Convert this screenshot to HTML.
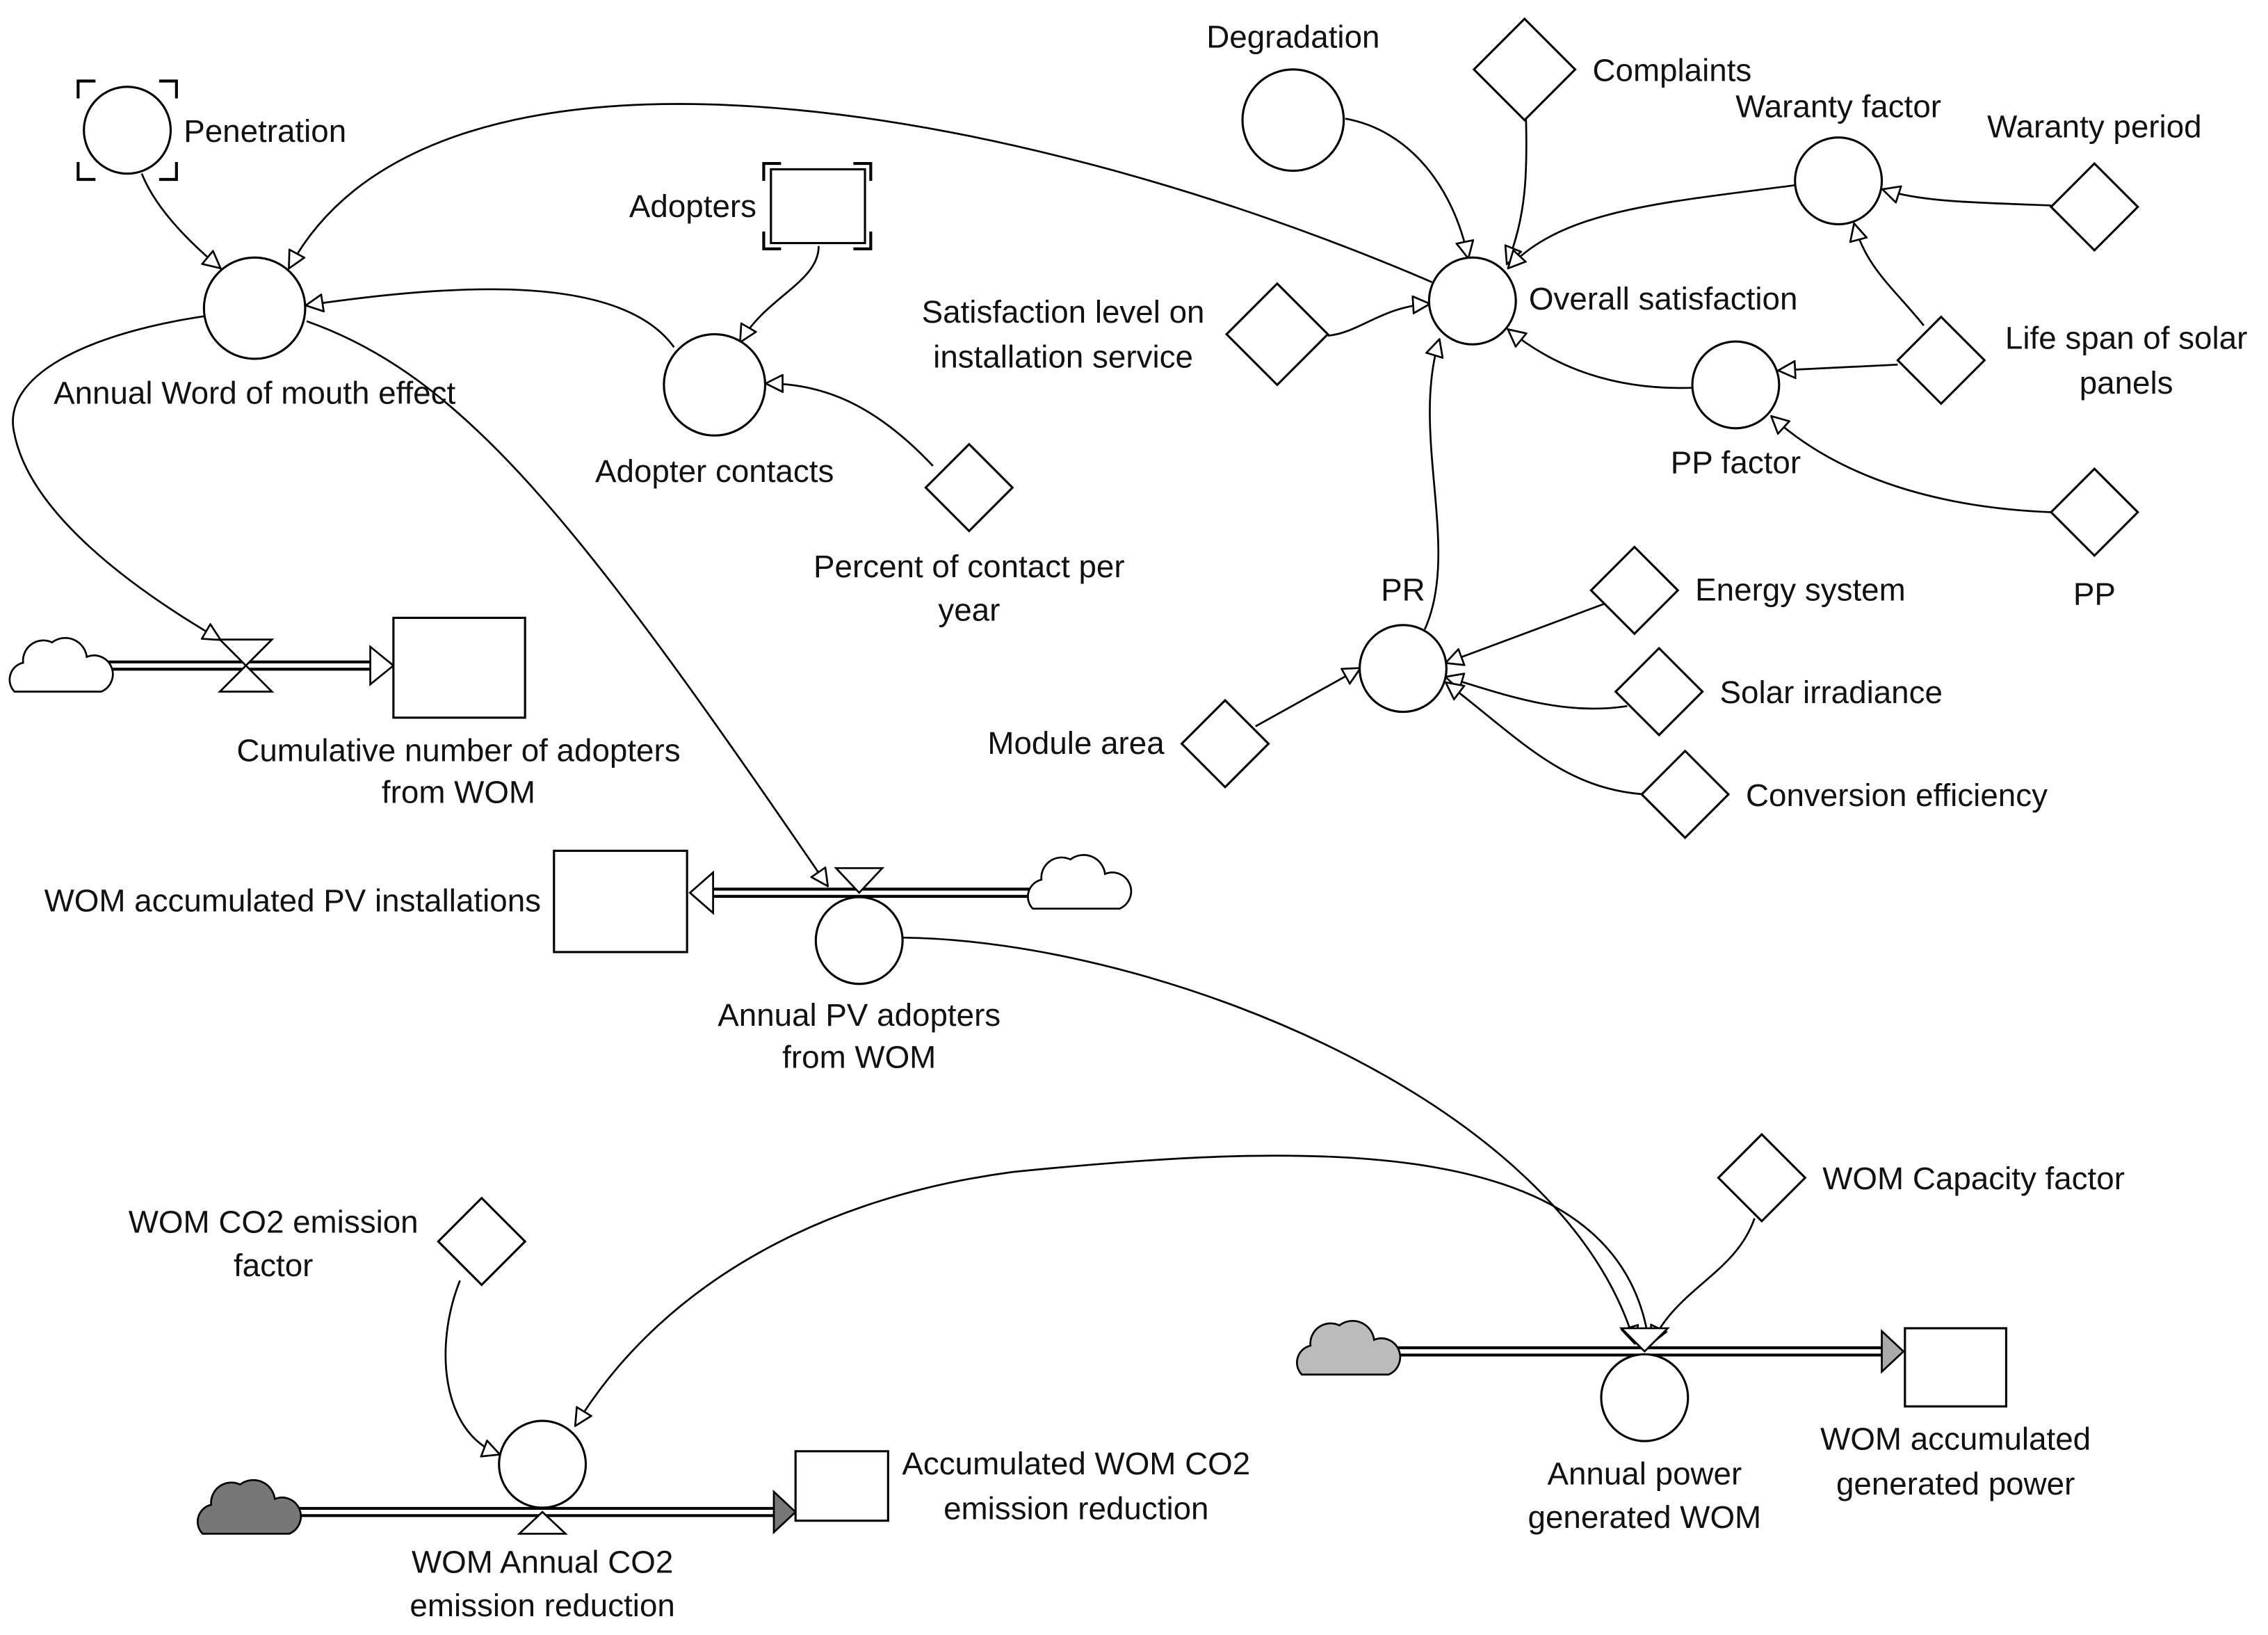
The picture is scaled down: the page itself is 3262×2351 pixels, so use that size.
<!DOCTYPE html>
<html><head><meta charset="utf-8"><style>
html,body{margin:0;padding:0;background:#fff;}
svg{display:block;}
text{font-family:"Liberation Sans",Arial,sans-serif;font-size:22px;fill:#111;}
</style></head><body>
<svg width="3262" height="2351" viewBox="0 0 1568 1130" preserveAspectRatio="none" xmlns="http://www.w3.org/2000/svg">
<defs>
<marker id="a" viewBox="0 0 10 10" refX="9" refY="5" markerWidth="13" markerHeight="13" markerUnits="userSpaceOnUse" orient="auto">
<path d="M0.5,0.5 L9.5,5 L0.5,9.5 z" fill="#fff" stroke="#000" stroke-width="1"/>
</marker>
</defs>
<rect width="1568" height="1130" fill="#fff"/>
<g fill="none" stroke="#000" stroke-width="1.3" marker-end="url(#a)">
<path d="M98,120 Q110,150 152,185"/>
<path d="M990,195 C700,70 300,0 200,185"/>
<path d="M566,170 C566,195 530,205 512,236"/>
<path d="M466,240 C430,190 320,195 212,211"/>
<path d="M645,322 C610,285 575,265 530,265"/>
<path d="M145,218 C60,230 0,260 10,300 C20,350 80,400 152,442"/>
<path d="M212,222 C320,260 400,360 572,612"/>
<path d="M930,82 C975,90 1005,130 1015,178"/>
<path d="M1055,82 C1056,120 1055,150 1042,182"/>
<path d="M1241,128 C1150,140 1080,145 1043,185"/>
<path d="M1418,142 C1370,140 1330,140 1302,131"/>
<path d="M1330,225 C1310,200 1290,185 1282,155"/>
<path d="M1312,252 L1230,256"/>
<path d="M1418,354 C1320,350 1260,320 1225,288"/>
<path d="M1170,268 C1110,270 1070,250 1043,228"/>
<path d="M918,232 C940,230 955,212 988,210"/>
<path d="M985,435 C1010,380 975,300 995,235"/>
<path d="M1110,417 L1000,458"/>
<path d="M1125,488 C1080,495 1040,480 1000,468"/>
<path d="M1137,549 C1080,545 1050,510 1000,472"/>
<path d="M868,502 L940,462"/>
<path d="M624,648 C800,650 1080,760 1130,928"/>
<path d="M1140,928 C1120,780 900,790 700,810 C550,830 450,900 398,985"/>
<path d="M1213,842 C1200,880 1160,890 1142,928"/>
<path d="M318,885 C300,930 305,990 345,1005"/>
</g>
<g stroke-linecap="butt">
<line x1="68" y1="460" x2="258" y2="460" stroke="#000" stroke-width="7"/><line x1="68" y1="460" x2="258" y2="460" stroke="#fff" stroke-width="3"/>
<line x1="492" y1="617" x2="715" y2="617" stroke="#000" stroke-width="7"/><line x1="492" y1="617" x2="715" y2="617" stroke="#fff" stroke-width="3"/>
<line x1="958" y1="934" x2="1302" y2="934" stroke="#000" stroke-width="7"/><line x1="958" y1="934" x2="1302" y2="934" stroke="#fff" stroke-width="3"/>
<line x1="198" y1="1045" x2="536" y2="1045" stroke="#000" stroke-width="7"/><line x1="198" y1="1045" x2="536" y2="1045" stroke="#fff" stroke-width="3"/>
</g>
<g stroke="#000" stroke-width="1.3">
<polygon points="256,447 272,460 256,473" fill="#fff"/>
<polygon points="493,603 477,617 493,631" fill="#fff"/>
<polygon points="1301,920 1316,934 1301,948" fill="#aaa"/>
<polygon points="535,1031 550,1045 535,1059" fill="#777"/>
<polygon points="152,442 188,442 152,478 188,478" fill="#fff"/>
<polygon points="578,600 610,600 594,617" fill="#fff"/>
<polygon points="1121,918 1153,918 1137,934" fill="#fff"/>
<polygon points="359,1060 391,1060 375,1045" fill="#fff"/>
</g>
<g stroke="#000" stroke-width="1.3">
<path transform="translate(40,460)" d="M-30,18 A12,12 0 0 1 -24,-2 A14,14 0 0 1 -4,-16 A15,15 0 0 1 20,-6 A13,13 0 0 1 30,18 Z" fill="#fff"/>
<path transform="translate(744,610)" d="M-30,18 A12,12 0 0 1 -24,-2 A14,14 0 0 1 -4,-16 A15,15 0 0 1 20,-6 A13,13 0 0 1 30,18 Z" fill="#fff"/>
<path transform="translate(930,932)" d="M-30,18 A12,12 0 0 1 -24,-2 A14,14 0 0 1 -4,-16 A15,15 0 0 1 20,-6 A13,13 0 0 1 30,18 Z" fill="#bbb"/>
<path transform="translate(170,1042)" d="M-30,18 A12,12 0 0 1 -24,-2 A14,14 0 0 1 -4,-16 A15,15 0 0 1 20,-6 A13,13 0 0 1 30,18 Z" fill="#777"/>
</g>
<g fill="#fff" stroke="#000" stroke-width="1.5">
<circle cx="88" cy="90" r="30"/>
<circle cx="176" cy="213" r="35"/>
<circle cx="494" cy="266" r="35"/>
<circle cx="594" cy="650" r="30"/>
<circle cx="894" cy="83" r="35"/>
<circle cx="1271" cy="125" r="30"/>
<circle cx="1018" cy="208" r="30"/>
<circle cx="1200" cy="266" r="30"/>
<circle cx="970" cy="462" r="30"/>
<circle cx="375" cy="1012" r="30"/>
<circle cx="1137" cy="966" r="30"/>
<rect x="533" y="117" width="65" height="51"/>
<rect x="272" y="427" width="91" height="69"/>
<rect x="383" y="588" width="92" height="70"/>
<rect x="550" y="1003" width="64" height="48"/>
<rect x="1317" y="918" width="70" height="54"/>
<polygon points="670,307 700,337 670,367 640,337"/>
<polygon points="1054,13 1089,48 1054,83 1019,48"/>
<polygon points="1448,113 1478,143 1448,173 1418,143"/>
<polygon points="883,196 918,231 883,266 848,231"/>
<polygon points="1342,219 1372,249 1342,279 1312,249"/>
<polygon points="1448,324 1478,354 1448,384 1418,354"/>
<polygon points="1130,378 1160,408 1130,438 1100,408"/>
<polygon points="1147,448 1177,478 1147,508 1117,478"/>
<polygon points="1165,519 1195,549 1165,579 1135,549"/>
<polygon points="847,484 877,514 847,544 817,514"/>
<polygon points="333,828 363,858 333,888 303,858"/>
<polygon points="1218,784 1248,814 1218,844 1188,814"/>
</g>
<g fill="none" stroke="#000" stroke-width="2">
<path d="M54,68 V56 H66 M110,56 H122 V68 M54,112 V124 H66 M110,124 H122 V112"/>
<path d="M528,125 V113 H540 M590,113 H602 V125 M528,160 V172 H540 M590,172 H602 V160"/>
</g>
<g>
<text x="127" y="98">Penetration</text>
<text x="176" y="279" text-anchor="middle">Annual Word of mouth effect</text>
<text x="523" y="150" text-anchor="end">Adopters</text>
<text x="494" y="333" text-anchor="middle">Adopter contacts</text>
<text x="670" y="399" text-anchor="middle">Percent of contact per</text>
<text x="670" y="429" text-anchor="middle">year</text>
<text x="317" y="526" text-anchor="middle">Cumulative number of adopters</text>
<text x="317" y="555" text-anchor="middle">from WOM</text>
<text x="374" y="630" text-anchor="end">WOM accumulated PV installations</text>
<text x="594" y="709" text-anchor="middle">Annual PV adopters</text>
<text x="594" y="738" text-anchor="middle">from WOM</text>
<text x="894" y="33" text-anchor="middle">Degradation</text>
<text x="1101" y="56">Complaints</text>
<text x="1271" y="81" text-anchor="middle">Waranty factor</text>
<text x="1448" y="95" text-anchor="middle">Waranty period</text>
<text x="1057" y="214">Overall satisfaction</text>
<text x="735" y="223" text-anchor="middle">Satisfaction level on</text>
<text x="735" y="254" text-anchor="middle">installation service</text>
<text x="1470" y="241" text-anchor="middle">Life span of solar</text>
<text x="1470" y="272" text-anchor="middle">panels</text>
<text x="1200" y="327" text-anchor="middle">PP factor</text>
<text x="1448" y="418" text-anchor="middle">PP</text>
<text x="970" y="415" text-anchor="middle">PR</text>
<text x="1172" y="415">Energy system</text>
<text x="1189" y="486">Solar irradiance</text>
<text x="1207" y="557">Conversion efficiency</text>
<text x="805" y="521" text-anchor="end">Module area</text>
<text x="189" y="852" text-anchor="middle">WOM CO2 emission</text>
<text x="189" y="882" text-anchor="middle">factor</text>
<text x="1260" y="822">WOM Capacity factor</text>
<text x="744" y="1019" text-anchor="middle">Accumulated WOM CO2</text>
<text x="744" y="1050" text-anchor="middle">emission reduction</text>
<text x="375" y="1087" text-anchor="middle">WOM Annual CO2</text>
<text x="375" y="1117" text-anchor="middle">emission reduction</text>
<text x="1137" y="1026" text-anchor="middle">Annual power</text>
<text x="1137" y="1056" text-anchor="middle">generated WOM</text>
<text x="1352" y="1002" text-anchor="middle">WOM accumulated</text>
<text x="1352" y="1033" text-anchor="middle">generated power</text>
</g>
</svg>
</body></html>
